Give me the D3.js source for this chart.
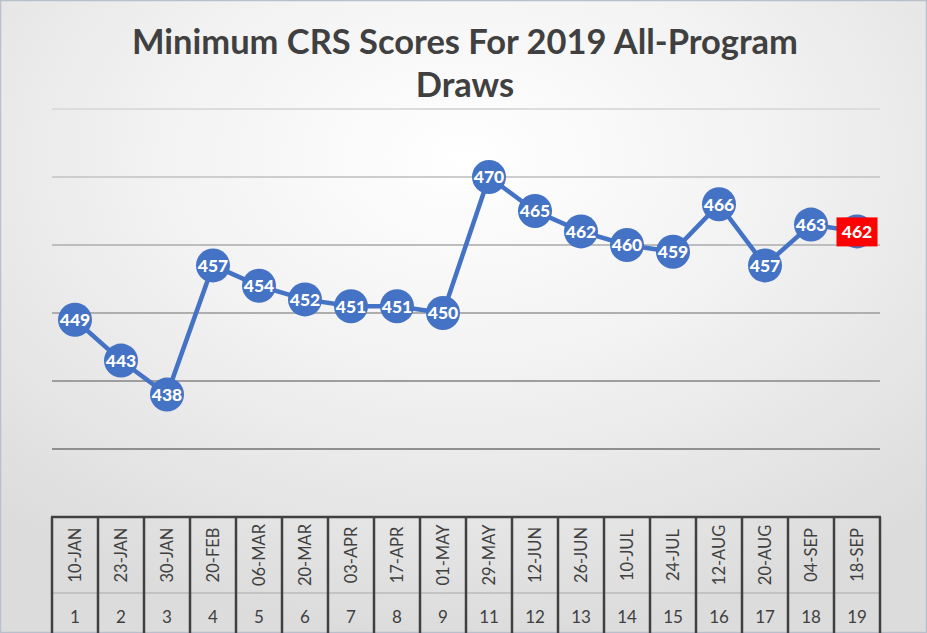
<!DOCTYPE html>
<html><head><meta charset="utf-8">
<script src="https://cdn.jsdelivr.net/npm/d3@7"></script>
<style>html,body{margin:0;padding:0;background:#fff;overflow:hidden}</style>
</head><body>
<svg id="chart" width="927" height="633"></svg>
<script>
const titleLines = ["Minimum CRS Scores For 2019 All-Program", "Draws"];
const drawNumbers = ["1","2","3","4","5","6","7","8","9","11","12","13","14","15","16","17","18","19"];
const drawDates = ["10-JAN","23-JAN","30-JAN","20-FEB","06-MAR","20-MAR","03-APR","17-APR","01-MAY","29-MAY","12-JUN","26-JUN","10-JUL","24-JUL","12-AUG","20-AUG","04-SEP","18-SEP"];
const scores = [449,443,438,457,454,452,451,451,450,470,465,462,460,459,466,457,463,462];
const yTicks = [430,440,450,460,470,480];

(function(){
const W = 927, H = 633;
const svg = d3.select("#chart");
const defs = svg.append("defs");
const grad = defs.append("radialGradient").attr("id","bg")
  .attr("cx","50%").attr("cy","25%").attr("r","75%");
grad.append("stop").attr("offset","0%").attr("stop-color","#ffffff");
grad.append("stop").attr("offset","45%").attr("stop-color","#f2f2f2");
grad.append("stop").attr("offset","100%").attr("stop-color","#dcdcdc");
svg.append("rect").attr("width",W).attr("height",H).attr("fill","url(#bg)");
svg.append("rect").attr("x",0.5).attr("y",0.5).attr("width",W-1).attr("height",H-1)
  .attr("fill","none").attr("stroke","#b9c0cc").attr("stroke-width",1.5);

const x = d3.scaleBand().domain(drawDates.map((d,i)=>i)).range([52,880]);
const y = d3.scaleLinear().domain([430,480]).range([449,109]);
const gridColor = d3.scaleLinear().domain([430,480]).range(["#8f8f8f","#dcdcdc"]);

svg.append("g").selectAll("line").data(yTicks).join("line")
  .attr("x1",52).attr("x2",880)
  .attr("y1",d=>y(d)).attr("y2",d=>y(d))
  .attr("stroke",d=>gridColor(d)).attr("stroke-width",2);

const title = svg.append("g").attr("font-family","Lato, 'Noto Sans', sans-serif")
  .attr("font-weight","bold").attr("fill","#404040").attr("text-anchor","middle");
title.selectAll("text").data(titleLines).join("text")
  .attr("x",465).attr("y",(d,i)=>54+i*43)
  .attr("font-size",33).text(d=>d);
const t0 = title.select("text").node();
const w0 = t0.getComputedTextLength();
const fs = 33*666/w0;
title.selectAll("text").attr("font-size",Math.min(fs,36));

const tbl = svg.append("g");
const yTop = 517, yMid = 593, yBot = 634;
tbl.append("line").attr("x1",52).attr("x2",880).attr("y1",yMid).attr("y2",yMid)
  .attr("stroke","#a8a8a8").attr("stroke-width",1);
const edges = drawDates.map((d,i)=>x(i)).concat([x.range()[1]]);
tbl.selectAll("line.v").data(edges).join("line").attr("class","v")
  .attr("x1",d=>d).attr("x2",d=>d).attr("y1",yTop).attr("y2",yBot)
  .attr("stroke","#404040").attr("stroke-width",2.5);
tbl.append("line").attr("x1",51).attr("x2",881).attr("y1",yTop).attr("y2",yTop)
  .attr("stroke","#404040").attr("stroke-width",2.5);
tbl.selectAll("text.date").data(drawDates).join("text").attr("class","date")
  .attr("transform",(d,i)=>`translate(${x(i)+x.bandwidth()/2+6},${(yTop+yMid)/2}) rotate(-90)`)
  .attr("text-anchor","middle").attr("font-family","Lato, 'Noto Sans', sans-serif")
  .attr("font-size",16.5).attr("fill","#404040").text(d=>d);
tbl.selectAll("text.num").data(drawNumbers).join("text").attr("class","num")
  .attr("x",(d,i)=>x(i)+x.bandwidth()/2).attr("y",623)
  .attr("text-anchor","middle").attr("font-family","Lato, 'Noto Sans', sans-serif")
  .attr("font-size",17).attr("fill","#404040").text(d=>d);

const cx = i => x(i)+x.bandwidth()/2;
svg.append("path").datum(scores)
  .attr("d",d3.line().x((d,i)=>cx(i)).y(d=>y(d)))
  .attr("fill","none").attr("stroke","#4472C4").attr("stroke-width",4.5);
svg.append("g").selectAll("circle").data(scores).join("circle")
  .attr("cx",(d,i)=>cx(i)).attr("cy",d=>y(d)).attr("r",17).attr("fill","#4472C4");
const last = scores.length-1;
svg.append("rect").attr("x",cx(last)-20.5).attr("y",y(scores[last])-14)
  .attr("width",41).attr("height",29).attr("fill","#ff0000");
svg.append("g").selectAll("text").data(scores).join("text")
  .attr("x",(d,i)=>cx(i)).attr("y",d=>y(d)).attr("dy","0.36em")
  .attr("text-anchor","middle").attr("font-family","Lato, 'Noto Sans', sans-serif")
  .attr("font-weight","900").attr("font-size",17.5).attr("fill","#ffffff").text(d=>d);
})();
</script>
</body></html>
